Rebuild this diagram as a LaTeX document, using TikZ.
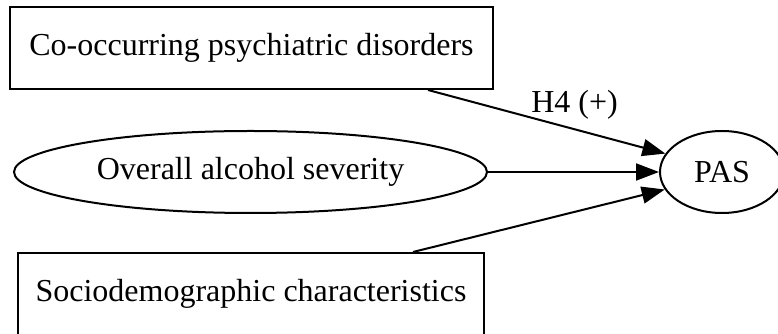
\documentclass[tikz,border=0pt]{standalone}
\usepackage{fontspec}
\setmainfont{Liberation Serif}
\usetikzlibrary{shapes.geometric,arrows.meta}
\begin{document}
\begin{tikzpicture}[x=1pt,y=1pt,
  every node/.style={font=\fontsize{32}{38}\selectfont, inner sep=0pt, line width=2pt},
  factorbox/.style={draw, rectangle, minimum height=82pt},
  factoroval/.style={draw, ellipse},
  link/.style={line width=2pt, -{Triangle[length=23pt,width=17pt]}}]
  \useasboundingbox (0,0) rectangle (778,334);
  \clip (0,0) rectangle (778,334);

  % predictors
  \node[factorbox, minimum width=483pt] (cooc) at (251.5,286) {Co-occurring psychiatric disorders};
  \node[factoroval, minimum width=473pt, minimum height=82pt] (alc) at (250.5,162) {Overall alcohol severity};
  \node[factorbox, minimum width=466pt] (socio) at (251,40) {Sociodemographic characteristics};

  % outcome
  \node[factoroval, minimum width=124pt, minimum height=82pt] (pas) at (722,162) {PAS};

  % hypothesised paths
  \draw[link] ([xshift=-66pt]cooc.south east) -- (pas.162);
  \node (h4) at (574.5,229) {H4 (+)};
  \draw[link] (alc.east) -- (pas.west);
  \draw[link] ([xshift=-72pt]socio.north east) -- (pas.197);
\end{tikzpicture}
\end{document}
